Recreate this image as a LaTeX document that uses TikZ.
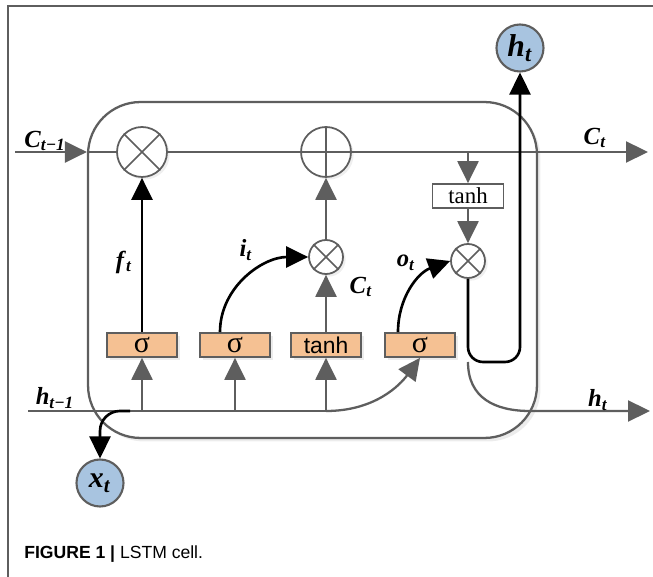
\documentclass[tikz,border=0pt]{standalone}
\usepackage{fontspec}
\setmainfont{Liberation Serif}
\newfontfamily\capfont{Liberation Sans}
\usetikzlibrary{arrows.meta,calc,positioning,shadows}
\definecolor{linegray}{HTML}{5E5E5E}
\definecolor{gatefill}{HTML}{F5C193}
\definecolor{iofill}{HTML}{A8C4E0}
\newcommand{\lbl}[2]{\textbf{\textit{#1}}\textsubscript{\textbf{\textit{#2}}}}

\begin{document}
\begin{tikzpicture}[x=0.02cm,y=-0.02cm,>=Latex]
  \tikzstyle{cellbox}=[draw=linegray,fill=white,line width=1.3pt,rounded corners=1.05cm,minimum width=8.98cm,minimum height=6.72cm,drop shadow={opacity=0.15,shadow xshift=2pt,shadow yshift=-2pt}]
  \tikzstyle{gate}=[draw=linegray,fill=gatefill,line width=1pt,minimum width=1.4cm,minimum height=0.48cm,inner sep=0pt,drop shadow={opacity=0.15,shadow xshift=1.5pt,shadow yshift=-1.5pt}]
  \tikzstyle{op}=[circle,draw=linegray,fill=white,line width=1pt,inner sep=0pt,drop shadow={opacity=0.12,shadow xshift=1.5pt,shadow yshift=-1.5pt}]
  \tikzstyle{io}=[circle,draw=linegray,fill=iofill,line width=1.2pt,minimum size=0.94cm,inner sep=0pt]
  \tikzstyle{wire}=[linegray,line width=1.3pt]
  \tikzstyle{flow}=[linegray,line width=1.3pt,-{Triangle[length=0.44cm,width=0.42cm]}]
  \tikzstyle{sig}=[black,line width=1.5pt,-{Triangle[length=0.44cm,width=0.42cm]}]
  \tikzstyle{tag}=[font=\fontsize{14}{16}\selectfont,inner sep=0pt]
  \useasboundingbox (0,0) rectangle (653,577);

  % page frame
  \draw[linegray,line width=0.8pt] (8,577) -- (8,6) -- (653,6);

  \node[cellbox] (cell) at (312.5,270) {};

  % gates
  \node[gate] (g1) at (142,345) {\fontsize{17}{17}\selectfont σ};
  \node[gate] (g2) at (235,345) {\fontsize{17}{17}\selectfont σ};
  \node[gate] (g3) at (326,345) {\capfont\fontsize{13}{14}\selectfont tanh};
  \node[gate] (g4) at (420,345) {\fontsize{17}{17}\selectfont σ};

  % pointwise ops
  \node[op,minimum size=1cm] (mf) at (142,152) {};
  \node[op,minimum size=1cm] (add) at (326,152) {};
  \node[op,minimum size=0.68cm] (mi) at (326,257) {};
  \node[op,minimum size=0.68cm] (mo) at (468,261) {};
  \node[draw=linegray,fill=white,line width=1pt,minimum width=1.42cm,minimum height=0.48cm,inner sep=0pt,font=\fontsize{13}{14}\selectfont] (th) at (468,196) {tanh};
  \foreach \m in {mf,mi,mo}
    \draw[wire,line width=1pt] (\m.north east) -- (\m.south west) (\m.north west) -- (\m.south east);
  \draw[wire,line width=1pt] (add.north) -- (add.south) (add.west) -- (add.east);

  % inputs / outputs
  \node[io] (ht) at (520,48) {\fontsize{18}{18}\selectfont\lbl{h}{t}};
  \node[io] (xt) at (100,483) {\fontsize{17}{17}\selectfont\lbl{x}{t}};
  \coordinate (cin) at (15,152);
  \coordinate (cout) at (648,152);
  \coordinate (hin) at (28,411);
  \coordinate (hout) at (650,411);
  \coordinate (xfork) at (130,411);
  \coordinate (hbend) at (468,362);

  % cell state
  \draw[flow] (cin) -- (cin -| cell.west);
  \draw[wire] (cin -| cell.west) -- (mf.west);
  \draw[wire] (mf.east) -- (add.west);
  \draw[flow] (add.east) -- (cout);
  \draw[flow] (th |- cin) -- (th.north);
  \draw[flow] (th.south) -- (mo.north);
  \draw[flow] (mi.north) -- (add.south);
  \draw[flow] (g3.north) -- (mi.south);

  % hidden state in
  \draw[wire] (hin) -- (g3 |- hin);
  \draw[flow] (g3 |- hin) .. controls (375,411) and (400,385) .. (g4.south);
  \foreach \g in {g1,g2,g3}
    \draw[flow] (\g |- hin) -- (\g.south);
  \draw[sig,rounded corners=0.4cm] (xfork) -- (xfork -| xt) -- (xt.north);

  % gate signals
  \draw[sig] (g1.north) -- (mf.south);
  \draw[sig] ([xshift=-0.3cm]g2.north) to[out=90,in=180] (mi.west);
  \draw[sig] ([xshift=-0.44cm]g4.north) to[out=90,in=200] (mo.west);

  % hidden state out
  \draw[sig,rounded corners=0.3cm] (mo.south) -- (hbend) -- (520,362) -- (ht.south);
  \draw[flow] (hbend) .. controls (468,398) and (495,411) .. (530,411) -- (hout);

  % labels
  \node[tag] (lcin) at (45,141) {\lbl{C}{t−1}};
  \node[tag] (lcout) at (595,138) {\lbl{C}{t}};
  \node[tag] (lhin) at (55,398) {\lbl{h}{t−1}};
  \node[tag] (lhout) at (598,400) {\lbl{h}{t}};
  \node[tag] (lf) at (124,262) {\lbl{f}{t}};
  \node[tag] (li) at (246,250) {\lbl{i}{t}};
  \node[tag] (lc) at (361,287) {\lbl{C}{t}};
  \node[tag] (lo) at (406,263) {\lbl{o}{t}};

  \node[anchor=west,inner sep=0pt,font=\capfont\fontsize{10}{12}\selectfont] (cap) at (24,554) {\textbf{FIGURE 1 |} LSTM cell.};
\end{tikzpicture}
\end{document}
